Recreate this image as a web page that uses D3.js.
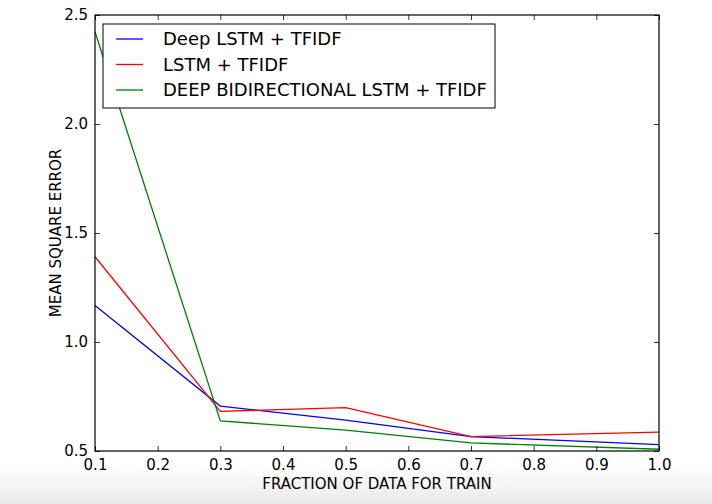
<!DOCTYPE html>
<html>
<head>
<meta charset="utf-8">
<script src="https://cdn.jsdelivr.net/npm/d3@7"></script>
<style>
  body { margin: 0; background: #fff; }
  text { font-family: "DejaVu Sans", sans-serif; fill: #000; }
</style>
</head>
<body>
<div id="chart"></div>
<script>
// Data
const fractions = [0.1, 0.3, 0.5, 0.7, 1.0];
const deepLstm = [1.167, 0.706, 0.642, 0.566, 0.529];
const lstm = [1.391, 0.682, 0.699, 0.566, 0.587];
const deepBiLstm = [2.423, 0.638, 0.596, 0.537, 0.508];
const seriesNames = ["Deep LSTM + TFIDF", "LSTM + TFIDF", "DEEP BIDIRECTIONAL LSTM + TFIDF"];
const seriesColors = ["#0000ff", "#ff0000", "#008000"];
const xTicks = [0.1, 0.2, 0.3, 0.4, 0.5, 0.6, 0.7, 0.8, 0.9, 1.0];
const yTicks = [0.5, 1.0, 1.5, 2.0, 2.5];

function drawChart() {
    const W = 712, H = 504;
    const margin = {top: 15, right: 53, bottom: 53, left: 95},
          width = W - margin.left - margin.right,
          height = H - margin.top - margin.bottom;

    const root = d3.select("#chart").append("svg")
        .attr("width", W)
        .attr("height", H);

    // soft grey fade at the bottom of the screenshot
    const grad = root.append("defs").append("linearGradient")
        .attr("id", "fade").attr("x1", 0).attr("y1", 0).attr("x2", 0).attr("y2", 1);
    grad.append("stop").attr("offset", "0%").attr("stop-color", "#ffffff");
    grad.append("stop").attr("offset", "100%").attr("stop-color", "#e9e9e9");
    root.append("rect")
        .attr("x", 0).attr("y", 466).attr("width", W).attr("height", H - 466)
        .attr("fill", "url(#fade)");

    const svg = root.append("g")
        .attr("transform", `translate(${margin.left},${margin.top})`);

    const x = d3.scaleLinear().domain([0.1, 1.0]).range([0, width]);
    const y = d3.scaleLinear().domain([0.5, 2.5]).range([height, 0]);

    // lines
    const series = [deepLstm, lstm, deepBiLstm];
    const line = d3.line()
        .x((d, i) => x(fractions[i]))
        .y(d => y(d));

    series.forEach((vals, k) => {
        svg.append("path")
            .datum(vals)
            .attr("fill", "none")
            .attr("stroke", seriesColors[k])
            .attr("stroke-width", 1.3)
            .attr("d", line);
    });

    // axes with inward ticks (matplotlib classic look)
    const fmt = d3.format(".1f");
    const axisStyle = g => {
        g.select(".domain").remove();
        g.selectAll(".tick line").attr("stroke", "#000").attr("stroke-width", 0.8);
        g.selectAll(".tick text")
            .style("font-size", "15px")
            .style("font-family", "'DejaVu Sans', sans-serif")
            .attr("fill", "#000");
    };

    svg.append("g")
        .attr("transform", `translate(0,${height})`)
        .call(d3.axisBottom(x).tickValues(xTicks).tickFormat(fmt).tickSizeInner(-5).tickPadding(8))
        .call(axisStyle);

    svg.append("g")
        .call(d3.axisTop(x).tickValues(xTicks).tickFormat("").tickSizeInner(-5))
        .call(axisStyle);

    svg.append("g")
        .call(d3.axisLeft(y).tickValues(yTicks).tickFormat(fmt).tickSizeInner(-5).tickPadding(7))
        .call(axisStyle);

    svg.append("g")
        .attr("transform", `translate(${width},0)`)
        .call(d3.axisRight(y).tickValues(yTicks).tickFormat("").tickSizeInner(-5))
        .call(axisStyle);

    // frame
    svg.append("rect")
        .attr("width", width)
        .attr("height", height)
        .attr("fill", "none")
        .attr("stroke", "#000")
        .attr("stroke-width", 1.2);

    // axis labels
    svg.append("text")
        .attr("x", width / 2)
        .attr("y", height + 38)
        .attr("text-anchor", "middle")
        .style("font-size", "15px")
        .text("FRACTION OF DATA FOR TRAIN");

    svg.append("text")
        .attr("transform", "rotate(-90)")
        .attr("x", -height / 2)
        .attr("y", -34)
        .attr("text-anchor", "middle")
        .style("font-size", "15px")
        .text("MEAN SQUARE ERROR");

    // legend
    const legend = svg.append("g").attr("transform", "translate(8,9)");
    legend.append("rect")
        .attr("width", 392)
        .attr("height", 84)
        .attr("fill", "#fff")
        .attr("stroke", "#000")
        .attr("stroke-width", 1);

    seriesNames.forEach((name, k) => {
        const row = legend.append("g").attr("transform", `translate(0,${15 + k * 25.5})`);
        row.append("line")
            .attr("x1", 13).attr("x2", 40)
            .attr("stroke", seriesColors[k])
            .attr("stroke-width", 1.3);
        row.append("text")
            .attr("x", 60)
            .attr("dy", "0.35em")
            .style("font-size", "18px")
            .text(name);
    });
}

drawChart();
</script>
</body>
</html>
